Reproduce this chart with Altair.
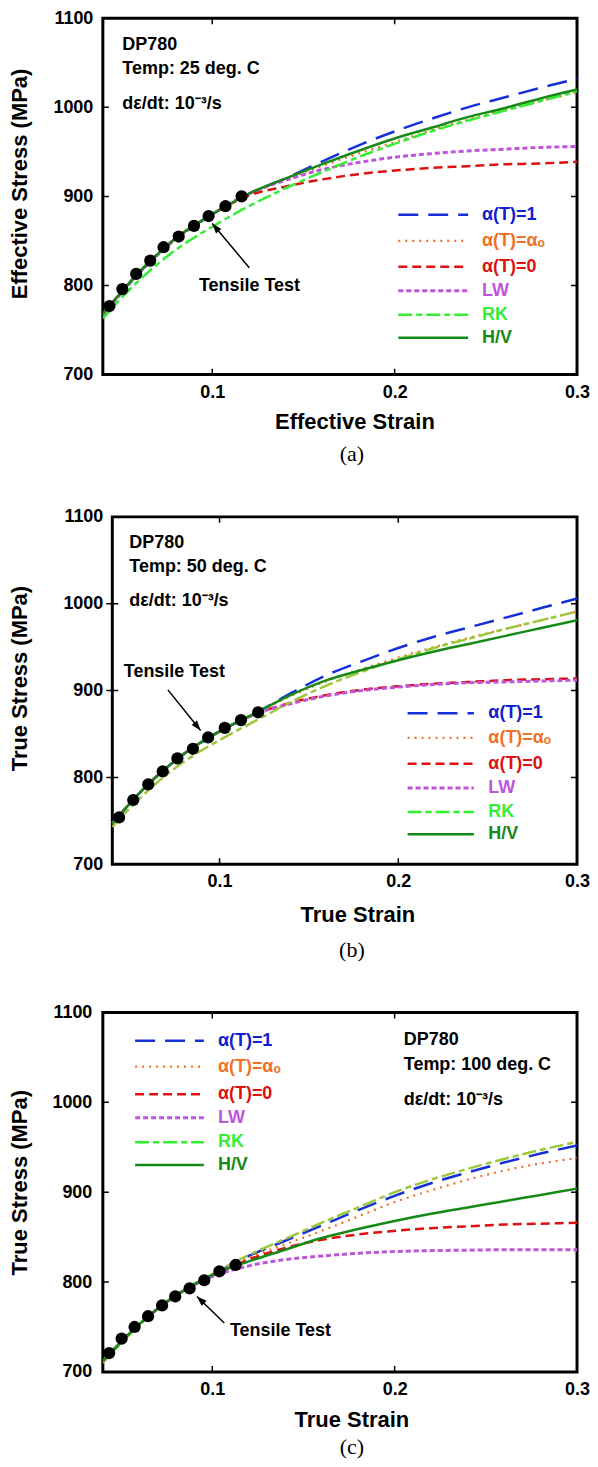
import altair as alt
import pandas as pd

FONT = "Liberation Sans"

# ---------------- data ----------------
strain_grid = [0.04, 0.06, 0.08, 0.10, 0.12, 0.14, 0.16, 0.18, 0.20, 0.22, 0.24, 0.26, 0.28, 0.30]
series_names = ["α(T)=1", "α(T)=αₒ", "α(T)=0", "LW", "RK", "H/V"]

# (a) 25 deg C
a_alpha_one = [768, 815, 853, 880, 903, 920, 939, 957, 973, 987, 1000, 1011, 1022, 1032]
a_alpha_o = [768, 815, 853, 880, 903, 919, 934, 948, 961, 974, 986, 997, 1007, 1017]
a_alpha_zero = [768, 815, 853, 880, 901, 911, 919, 925, 929, 932, 934, 936, 937, 939]
a_lw = [766, 814, 852, 880, 903, 918, 930, 938, 944, 948, 951, 953, 955, 956]
a_rk = [763, 806, 840, 866, 889, 909, 927, 944, 959, 973, 985, 996, 1007, 1018]
a_hv = [768, 815, 853, 880, 903, 920, 936, 951, 965, 977, 989, 999, 1010, 1020]
a_test_strain = [0.0436, 0.0507, 0.0583, 0.066, 0.0733, 0.0816, 0.09, 0.098, 0.1072, 0.1161]
a_test_stress = [777, 796, 813, 828, 843, 855, 867, 878, 889, 900]

# (b) 50 deg C
b_alpha_one = [747, 792, 827, 853, 874, 897, 918, 934, 949, 962, 973, 984, 995, 1006]
b_alpha_o = [747, 792, 827, 853, 874, 894, 911, 925, 938, 950, 961, 971, 981, 991]
b_alpha_zero = [747, 792, 827, 853, 873, 886, 895, 901, 905, 908, 910, 912, 913, 914]
b_lw = [747, 792, 827, 853, 873, 885, 894, 900, 904, 907, 909, 910, 911, 912]
b_rk = [743, 785, 818, 843, 865, 887, 906, 922, 936, 949, 960, 971, 981, 991]
b_hv = [747, 792, 827, 853, 874, 895, 912, 924, 935, 945, 954, 963, 972, 981]
b_test_strain = [0.0438, 0.0517, 0.0601, 0.0682, 0.0764, 0.0851, 0.0936, 0.1029, 0.112, 0.1216]
b_test_stress = [754, 774, 792, 807, 822, 833, 846, 857, 866, 875]

# (c) 100 deg C
c_alpha_one = [712, 753, 785, 808, 829, 846, 863, 880, 896, 910, 922, 933, 943, 952]
c_alpha_o = [712, 753, 785, 808, 827, 842, 857, 873, 889, 902, 914, 924, 932, 938]
c_alpha_zero = [712, 753, 785, 807, 825, 838, 847, 853, 857, 860, 862, 864, 865, 866]
c_lw = [712, 753, 785, 806, 818, 825, 829, 832, 834, 835, 835.5, 836, 836, 836]
c_rk = [710, 752, 785, 809, 830, 848, 866, 883, 900, 914, 926, 937, 947, 956]
c_hv = [712, 753, 785, 808, 823, 836, 849, 859, 868, 876, 883, 890, 897, 904]
c_test_strain = [0.0435, 0.0503, 0.0574, 0.0648, 0.0725, 0.0797, 0.0876, 0.0956, 0.1039, 0.1128]
c_test_stress = [721, 737, 750, 762, 774, 784, 793, 802, 812, 819]

# axes
x_domain = [0.04, 0.3]
y_domain = [700, 1100]
x_label_values = [0.1, 0.2, 0.3]
y_label_values = [700, 800, 900, 1000, 1100]
x_inner_ticks = [0.1, 0.2]
y_inner_ticks = [800, 900, 1000]

info_a = ["DP780", "Temp: 25 deg. C", "dε/dt: 10⁻³/s"]
info_b = ["DP780", "Temp: 50 deg. C", "dε/dt: 10⁻³/s"]
info_c = ["DP780", "Temp: 100 deg. C", "dε/dt: 10⁻³/s"]
tensile_label = "Tensile Test"

# ---------------- styles ----------------
series_colors = ["#1530d8", "#f07028", "#dd1111", "#c055dd", "#33ee33", "#168a16"]
label_colors = ["#1020d0", "#f07028", "#dd1111", "#c055dd", "#33ee33", "#168a16"]
series_dash = [[20, 10], [2, 5], [9, 5], [5, 3], [14, 4, 6, 4], None]
series_width = [2.5, 2.2, 2.5, 3.0, 2.5, 2.5]

panels = [
    dict(series=[a_alpha_one, a_alpha_o, a_alpha_zero, a_lw, a_rk, a_hv],
         ts=a_test_strain, tv=a_test_stress, info=info_a,
         rk_color="#33ee33", xrange=[0, 475],
         width=475, height=357, xtitle="Effective Strain", ytitle="Effective Stress (MPa)",
         caption="(a)", xtp=10.5, ylp=10, ytp=21.5, title_x=252, title_y=357 / 2 - 13,
         cap_off=11.5, cap_dx=12,
         info_x=0.0507, info_y=[1064, 1037, 998],
         leg_x1=0.202, leg_x2=0.2403, leg_tx=0.2479,
         leg_y=[879.3, 850.2, 821, 794.1, 767.2, 741.5],
         tt_x=0.0927, tt_y=794, tail=(0.1203, 820), head=(0.1, 869.5), angle=320),
    dict(series=[b_alpha_one, b_alpha_o, b_alpha_zero, b_lw, b_rk, b_hv],
         ts=b_test_strain, tv=b_test_stress, info=info_b,
         rk_color="#9cc83c", xrange=[9.5, 475],
         width=475, height=348, xtitle="True Strain", ytitle="True Stress (MPa)",
         caption="(b)", xtp=14, ylp=0, ytp=31, title_x=255, title_y=348 / 2 - 12.5,
         cap_off=14, cap_dx=12,
         info_x=0.0495, info_y=[1064.7, 1036.8, 997.7],
         leg_x1=0.2052, leg_x2=0.2423, leg_tx=0.2504,
         leg_y=[873.9, 845.6, 815.8, 787.7, 760.1, 734.5],
         tt_x=0.0464, tt_y=915.3, tail=(0.0711, 900.8), head=(0.0894, 854), angle=141),
    dict(series=[c_alpha_one, c_alpha_o, c_alpha_zero, c_lw, c_rk, c_hv],
         ts=c_test_strain, tv=c_test_stress, info=info_c,
         rk_color="#9cc83c", xrange=[0, 475],
         width=475, height=360, xtitle="True Strain", ytitle="True Stress (MPa)",
         caption="(c)", xtp=10.7, ylp=11, ytp=20, title_x=249, title_y=360 / 2 - 10,
         cap_off=7, cap_dx=12,
         info_x=0.205, info_y=[1063.7, 1035.9, 997],
         leg_x1=0.0577, leg_x2=0.0954, leg_tx=0.1031,
         leg_y=[1068.6, 1039.7, 1008.9, 983, 955.6, 930.3],
         tt_x=0.1097, tt_y=739.7, tail=(0.1066, 754.5), head=(0.0916, 784), angle=314),
]


def make_panel(p):
    X = alt.X("strain:Q", scale=alt.Scale(domain=x_domain, nice=False, zero=False, range=p["xrange"]),
              axis=alt.Axis(values=x_label_values, format=".1f", title=p["xtitle"],
                            labelPadding=8.5, titlePadding=p["xtp"], titleX=p["title_x"]))
    Y = alt.Y("stress:Q", scale=alt.Scale(domain=y_domain, nice=False, zero=False),
              axis=alt.Axis(values=y_label_values, format="d", title=p["ytitle"],
                            labelPadding=p["ylp"], titlePadding=p["ytp"], titleY=p["title_y"]))
    layers = []

    # plot frame
    dff = pd.DataFrame({"strain": [x_domain[0]], "x2": [x_domain[1]],
                        "stress": [y_domain[0]], "y2": [y_domain[1]]})
    layers.append(alt.Chart(dff).mark_rect(filled=False, stroke="black", strokeWidth=3)
                  .encode(x=X, x2="x2:Q", y=Y, y2="y2:Q"))

    # inward ticks on all four sides
    ty = pd.DataFrame({"stress": y_inner_ticks * 2,
                       "strain": [x_domain[0]] * len(y_inner_ticks) + [x_domain[1]] * len(y_inner_ticks)})
    tx = pd.DataFrame({"strain": x_inner_ticks * 2,
                       "stress": [y_domain[0]] * len(x_inner_ticks) + [y_domain[1]] * len(x_inner_ticks)})
    layers.append(alt.Chart(ty).mark_tick(orient="horizontal", size=12, thickness=1.5,
                                          color="black", clip=True, opacity=1).encode(x=X, y=Y))
    layers.append(alt.Chart(tx).mark_tick(orient="vertical", size=12, thickness=1.5,
                                          color="black", clip=True, opacity=1).encode(x=X, y=Y))

    # model curves
    for i, vals in enumerate(p["series"]):
        col = p["rk_color"] if series_names[i] == "RK" else series_colors[i]
        kw = dict(color=col, strokeWidth=series_width[i], interpolate="monotone", clip=True)
        if series_dash[i] is not None:
            kw["strokeDash"] = series_dash[i]
        df = pd.DataFrame({"strain": strain_grid, "stress": vals})
        layers.append(alt.Chart(df).mark_line(**kw).encode(x=X, y=Y))

    # tensile test points
    dft = pd.DataFrame({"strain": p["ts"], "stress": p["tv"]})
    layers.append(alt.Chart(dft).mark_circle(size=150, color="black", opacity=1).encode(x=X, y=Y))

    # info text
    dfi = pd.DataFrame({"strain": [p["info_x"]] * 3, "stress": p["info_y"], "label": p["info"]})
    layers.append(alt.Chart(dfi).mark_text(align="left", baseline="alphabetic", font=FONT,
                                           fontSize=18, fontWeight="bold", color="black")
                  .encode(x=X, y=Y, text="label:N"))

    # legend
    for i, name in enumerate(series_names):
        kw = dict(color=series_colors[i], strokeWidth=series_width[i])
        if series_dash[i] is not None:
            kw["strokeDash"] = series_dash[i]
        dfl = pd.DataFrame({"strain": [p["leg_x1"]], "x2": [p["leg_x2"]], "stress": [p["leg_y"][i]]})
        layers.append(alt.Chart(dfl).mark_rule(**kw).encode(x=X, x2="x2:Q", y=Y))
        dflt = pd.DataFrame({"strain": [p["leg_tx"]], "stress": [p["leg_y"][i]], "label": [name]})
        layers.append(alt.Chart(dflt).mark_text(align="left", baseline="middle", font=FONT,
                                                fontSize=18, fontWeight="bold", color=label_colors[i])
                      .encode(x=X, y=Y, text="label:N"))

    # tensile test annotation with arrow
    dftt = pd.DataFrame({"strain": [p["tt_x"]], "stress": [p["tt_y"]], "label": [tensile_label]})
    layers.append(alt.Chart(dftt).mark_text(align="left", baseline="alphabetic", font=FONT,
                                            fontSize=18, fontWeight="bold", color="black")
                  .encode(x=X, y=Y, text="label:N"))
    dfa = pd.DataFrame({"strain": [p["tail"][0]], "x2": [p["head"][0]],
                        "stress": [p["tail"][1]], "y2": [p["head"][1]]})
    layers.append(alt.Chart(dfa).mark_rule(color="black", strokeWidth=1.5)
                  .encode(x=X, x2="x2:Q", y=Y, y2="y2:Q"))
    dfh = pd.DataFrame({"strain": [p["head"][0]], "stress": [p["head"][1]]})
    layers.append(alt.Chart(dfh).mark_point(shape="M0,0L-0.35,1L0.35,1Z", filled=True, color="black",
                                            size=400, opacity=1, angle=p["angle"])
                  .encode(x=X, y=Y))

    return alt.layer(*layers).properties(
        width=p["width"], height=p["height"],
        title=alt.TitleParams(text=p["caption"], orient="bottom", anchor="middle", frame="group",
                              font="Liberation Serif", fontSize=22, fontWeight="normal",
                              color="black", offset=p["cap_off"], dx=p["cap_dx"]))


chart = alt.ConcatChart(
    concat=[make_panel(p) for p in panels], columns=1, spacing=42.5,
    padding={"left": 0, "top": 0, "right": 0, "bottom": 0}, background="white",
).configure_view(stroke="transparent", strokeWidth=0).configure_axis(
    grid=False, domain=False, ticks=False, labelFont=FONT, labelFontSize=18,
    labelFontWeight="bold", titleFont=FONT, titleFontSize=22, titleFontWeight="bold",
    labelColor="black", titleColor="black", labelFlush=False, labelOverlap=False,
)

chart.save("out.html", embed_options={"renderer": "svg", "actions": False})
